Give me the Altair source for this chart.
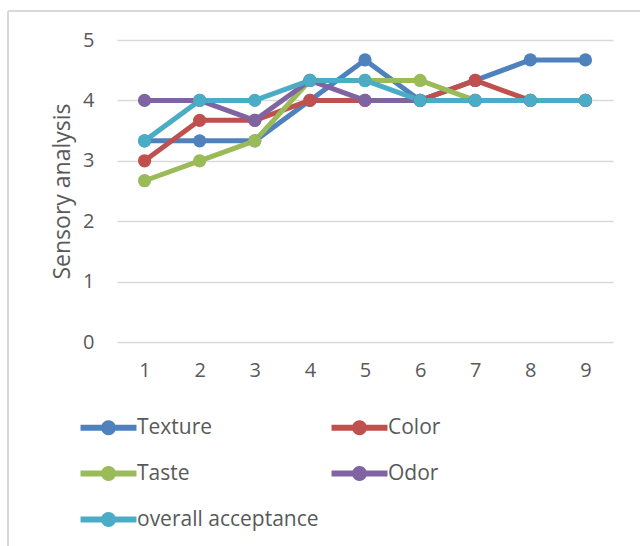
import math
import altair as alt
import pandas as pd

# Sensory scores per sample (1-9), one list per attribute
samples = [1, 2, 3, 4, 5, 6, 7, 8, 9]
texture = [3.33, 3.33, 3.33, 4.0, 4.67, 4.0, 4.33, 4.67, 4.67]
color = [3.0, 3.67, 3.67, 4.0, 4.0, 4.0, 4.33, 4.0, 4.0]
taste = [2.67, 3.0, 3.33, 4.33, 4.33, 4.33, 4.0, 4.0, 4.0]
odor = [4.0, 4.0, 3.67, 4.33, 4.0, 4.0, 4.0, 4.0, 4.0]
overall = [3.33, 4.0, 4.0, 4.33, 4.33, 4.0, 4.0, 4.0, 4.0]

series_names = ["Texture", "Color", "Taste", "Odor", "overall acceptance"]
series_values = [texture, color, taste, odor, overall]
palette = ["#4f81bd", "#c0504d", "#9bbb59", "#8064a2", "#4bacc6"]

rows = []
for k, (name, vals) in enumerate(zip(series_names, series_values)):
    for s, v in zip(samples, vals):
        rows.append({"sample": s, "score": v, "attribute": name, "k": k})
df = pd.DataFrame(rows)

FONT = "Open Sans"
GREY_TEXT = "#595959"

# legend glyph: a thick bar with a round dot in the middle (unit coordinates)
dot = " ".join(
    ("M" if i == 0 else "L")
    + f"{math.cos(2 * math.pi * i / 24):.3f},{math.sin(2 * math.pi * i / 24):.3f}"
    for i in range(24)
) + " Z"
legend_glyph = "M-3.73,-0.4 L3.73,-0.4 L3.73,0.4 L-3.73,0.4 Z " + dot

x_enc = alt.X(
    "sample:O",
    scale=alt.Scale(type="point", padding=0.5),
    axis=alt.Axis(title=None, labelAngle=0, grid=False, labelPadding=18),
)
y_enc = alt.Y(
    "score:Q",
    scale=alt.Scale(domain=[0, 5], nice=False),
    axis=alt.Axis(title="Sensory analysis", values=[0, 1, 2, 3, 4, 5], format="d",
                  labelPadding=23),
)

base = alt.Chart(df)

# connecting lines: keyed by series index so they get a scale of their own
lines = base.mark_line(strokeWidth=5, strokeCap="round", strokeJoin="round").encode(
    x=x_enc, y=y_enc,
    stroke=alt.Stroke("k:N",
                      scale=alt.Scale(domain=list(range(len(series_names))), range=palette),
                      legend=None),
)

points = base.mark_point(filled=True, size=175, opacity=1).encode(
    x=x_enc, y=y_enc,
    color=alt.Color(
        "attribute:N",
        scale=alt.Scale(domain=series_names, range=palette),
        legend=alt.Legend(
            title=None, orient="none", legendX=-19, legendY=377,
            columns=2, direction="horizontal",
            padding=0, columnPadding=12, rowPadding=24,
            symbolType=legend_glyph, symbolSize=225, symbolStrokeWidth=0,
            symbolOpacity=1, labelOffset=18, labelFontSize=21,
            labelFont=FONT, labelColor=GREY_TEXT, labelLimit=400,
        ),
    ),
    order="k:Q",
)

# thin frame around the chart area
frame_left = alt.Chart(df).mark_rule(color="#d9d9d9", strokeWidth=1.5).encode(
    x=alt.value(-109), y=alt.value(-29), y2=alt.value(540)
)
frame_top = alt.Chart(df).mark_rule(color="#d9d9d9", strokeWidth=1.5).encode(
    x=alt.value(-109), x2=alt.value(560), y=alt.value(-29)
)

chart = (
    alt.layer(frame_left, frame_top, lines, points)
    .properties(
        width=496, height=302,
        autosize=alt.AutoSizeParams(type="none"),
        padding={"left": 117, "top": 40, "right": 27, "bottom": 204},
        background="white",
    )
    .configure_view(stroke=None)
    .configure_axis(
        domain=False, ticks=False, gridColor="#d9d9d9", gridWidth=1.5,
        labelFontSize=20, labelColor=GREY_TEXT, labelFont=FONT,
        titleFontSize=23, titleFontWeight="normal", titleColor=GREY_TEXT,
        titleFont=FONT, titlePadding=8,
    )
)

chart.save("out.html", embed_options={"renderer": "svg", "actions": False})
